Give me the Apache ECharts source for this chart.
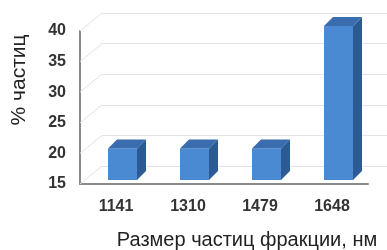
<!DOCTYPE html>
<html>
<head>
<meta charset="utf-8">
<script src="https://cdn.jsdelivr.net/npm/echarts@6/dist/echarts.min.js"></script>
<style>
  html, body { margin: 0; padding: 0; background: #ffffff; }
  #chart { width: 387px; height: 250px; }
</style>
</head>
<body>
<div id="chart"></div>
<script>
// data
const categories = ['1141', '1310', '1479', '1648'];
const shares = [20, 20, 20, 40];
const yMin = 15;
const yMax = 40;
const yStep = 5;
const yTitle = '% частиц';
const xTitle = 'Размер частиц фракции, нм';

const font = 'Liberation Sans, Arial, sans-serif';
// 3d look: back wall shift and bar depth
const wallDx = 22, wallDy = -18;
const depth = 9;

const tickValues = [];
for (let v = yMin; v <= yMax; v += yStep) tickValues.push(v);

let chart = echarts.init(document.getElementById('chart'));

function renderBar(params, api) {
  const top = api.coord([api.value(0), api.value(1)]);
  const bot = api.coord([api.value(0), yMin]);
  const x0 = top[0] - 8;
  const x1 = x0 + 29;
  const yt = top[1] - 5;
  const yb = bot[1] - 4;
  return {
    type: 'group',
    children: [
      { type: 'polygon', shape: { points: [[x0, yt], [x1, yt], [x1, yb], [x0, yb]] },
        style: { fill: '#4a8ad2' } },
      { type: 'polygon', shape: { points: [[x0, yt], [x0 + depth, yt - depth], [x1 + depth, yt - depth], [x1, yt]] },
        style: { fill: '#3a6dae' } },
      { type: 'polygon', shape: { points: [[x1, yt], [x1 + depth, yt - depth], [x1 + depth, yb - depth], [x1, yb]] },
        style: { fill: '#2c5a92' } }
    ]
  };
}

function renderDiag(params, api) {
  const p = api.coord([0, api.value(0)]);
  const x = params.coordSys.x;
  return {
    type: 'line',
    shape: { x1: x, y1: p[1], x2: x + wallDx, y2: p[1] + wallDy },
    style: { stroke: '#e2e2e2', lineWidth: 1 }
  };
}

chart.setOption({
  backgroundColor: '#ffffff',
  animation: false,
  grid: [
    { left: 80, right: 19, top: 31, bottom: 66 },
    { left: 80 + wallDx, right: 0, top: 31 + wallDy, bottom: 66 - wallDy }
  ],
  xAxis: [
    {
      gridIndex: 0,
      type: 'category',
      data: categories,
      axisLine: { lineStyle: { color: '#8a8a8a', width: 2 } },
      axisTick: { show: false },
      axisLabel: { color: '#333', fontSize: 16, fontWeight: 'bold', fontFamily: font, margin: 15 }
    },
    { gridIndex: 1, type: 'category', data: categories, show: false }
  ],
  yAxis: [
    {
      gridIndex: 0,
      type: 'value',
      min: yMin, max: yMax, interval: yStep,
      axisLine: { show: true, lineStyle: { color: '#8a8a8a', width: 2 } },
      axisTick: { show: false },
      splitLine: { show: false },
      axisLabel: { color: '#333', fontSize: 16, fontWeight: 'bold', fontFamily: font, margin: 14 }
    },
    {
      gridIndex: 1,
      type: 'value',
      min: yMin, max: yMax, interval: yStep,
      axisLine: { show: false },
      axisTick: { show: false },
      axisLabel: { show: false },
      splitLine: { show: true, lineStyle: { color: '#e4e4e4', width: 1 } }
    }
  ],
  graphic: [
    { type: 'text', x: 19, y: 80, rotation: Math.PI / 2,
      style: { text: yTitle, fill: '#222', font: '21px ' + font, align: 'center', verticalAlign: 'middle' } },
    { type: 'text', x: 247, y: 240,
      style: { text: xTitle, fill: '#222', font: '20px ' + font, align: 'center', verticalAlign: 'middle' } }
  ],
  series: [
    {
      type: 'custom',
      xAxisIndex: 0, yAxisIndex: 0,
      renderItem: renderDiag,
      data: tickValues.map(v => [v]),
      silent: true, z: 1
    },
    {
      type: 'custom',
      xAxisIndex: 0, yAxisIndex: 0,
      renderItem: renderBar,
      data: categories.map((c, i) => [i, shares[i]]),
      z: 5
    }
  ]
});
</script>
</body>
</html>
